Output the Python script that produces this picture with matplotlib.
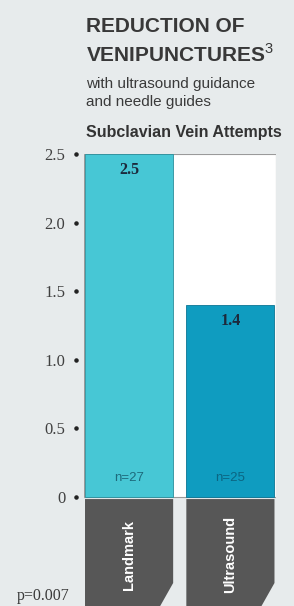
import matplotlib.pyplot as plt
from matplotlib.patches import Polygon, Rectangle
from matplotlib.transforms import blended_transform_factory

plt.rcParams['mathtext.fontset'] = 'custom'
plt.rcParams['mathtext.rm'] = 'Liberation Sans'

categories = ['Landmark', 'Ultrasound']
attempts = [2.5, 1.4]
n_labels = ['n=27', 'n=25']
bar_colors = ['#47c7d5', '#0f9cc0']
n_colors = ['#1d6a7c', '#0b6582']
yticks = [0, 0.5, 1.0, 1.5, 2.0, 2.5]
ytick_labels = ['0', '0.5', '1.0', '1.5', '2.0', '2.5']

W, H = 294, 606
fig = plt.figure(figsize=(W / 100, H / 100), dpi=100, facecolor='#e7ebec')

# axes: x from px 84 to 276, y from px 154 (2.5) down to bottom of figure
ax = fig.add_axes([84 / W, 0, 192 / W, (H - 154) / H])
ax.set_facecolor('none')
px_per_unit = (497 - 154) / 2.5
ax.set_xlim(-0.445, 1.45)
ax.set_ylim(-(H - 497) / px_per_unit, 2.5)
for s in ax.spines.values():
    s.set_visible(False)

# white plotting box
ax.add_patch(Rectangle((-0.445, 0), 1.895, 2.5, facecolor='white',
                       edgecolor='#9a9a9a', lw=0.8, zorder=0))

x = list(range(len(categories)))
width = 0.87
ax.bar(x, attempts, width=width, color=bar_colors,
       edgecolor=['#2b8f9c', '#0a7594'], lw=0.6, zorder=2)

for xi, v in zip(x, attempts):
    ax.text(xi, v - 0.12, f'{v}', ha='center', va='center', fontsize=11.5,
            fontweight='bold', family='Liberation Serif', color='#1c2a3c', zorder=3)
for xi, lab, c in zip(x, n_labels, n_colors):
    ax.text(xi, 0.135, lab, ha='center', va='center', fontsize=9.5,
            family='Liberation Sans', color=c, zorder=3)

# dark label tabs with chamfered corner
ybot = ax.get_ylim()[0]
cut_y = -(583 - 497) / px_per_unit
cut_x = 13 / 101.5
for xi, lab in zip(x, categories):
    l, r = xi - width / 2, xi + width / 2
    ax.add_patch(Polygon([(l, -0.015), (r, -0.015), (r, cut_y), (r - cut_x, ybot),
                          (l, ybot)], closed=True, facecolor='#575757',
                         edgecolor='none', zorder=2))
    ax.text(xi, -0.42, lab, rotation=90, ha='center', va='center', fontsize=10.5,
            fontweight='bold', family='Liberation Sans', color='white', zorder=3)

# y ticks: serif labels + dots
ax.set_xticks([])
ax.set_yticks(yticks)
ax.set_yticklabels(ytick_labels, family='Liberation Serif', fontsize=12, color='#404040')
ax.tick_params(axis='y', length=0, pad=13.5)
tr = blended_transform_factory(ax.transAxes, ax.transData)
ax.scatter([-8 / 192] * len(yticks), yticks, s=5, color='#222222',
           transform=tr, clip_on=False, zorder=4)

# titles
tfont = dict(fontsize=15, fontweight='bold', family='Liberation Sans',
             color='#383838', va='baseline')
fig.text(86 / W, 1 - 32 / H, 'REDUCTION OF', **tfont)
fig.text(86 / W, 1 - 62 / H, r'VENIPUNCTURES$^{\mathrm{3}}$', **tfont)
sub = dict(fontsize=11, family='Liberation Sans', color='#3a3a3a', va='baseline')
fig.text(86 / W, 1 - 88 / H, 'with ultrasound guidance', **sub)
fig.text(86 / W, 1 - 106 / H, 'and needle guides', **sub)
fig.text(86 / W, 1 - 137 / H, 'Subclavian Vein Attempts', fontsize=11.5,
         fontweight='bold', family='Liberation Sans', color='#333333',
         va='baseline')
fig.text(17 / W, 1 - 600 / H, 'p=0.007', fontsize=11.5, family='Liberation Serif',
         color='#3a3a3a', va='baseline')

fig.savefig('out.png', dpi=100, facecolor=fig.get_facecolor())
